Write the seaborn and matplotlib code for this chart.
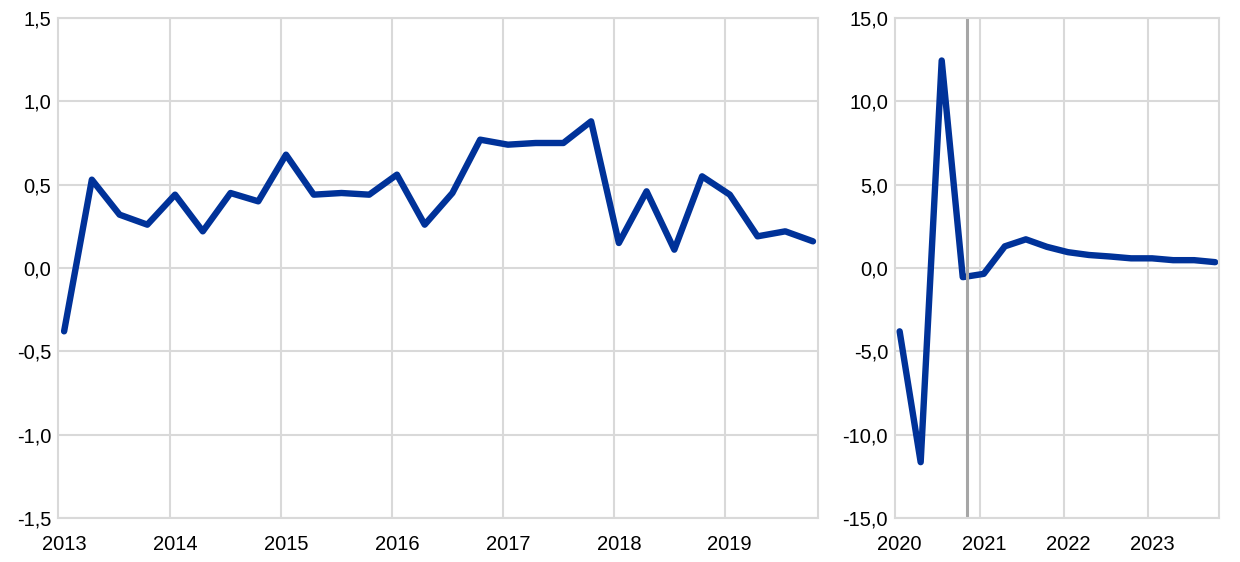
import matplotlib
matplotlib.use("Agg")
import matplotlib.pyplot as plt
import seaborn as sns
import pandas as pd
import numpy as np

# quarterly values, 2013Q1-2019Q4
hist_values = [-0.38, 0.53, 0.32, 0.26, 0.44, 0.22, 0.45, 0.40,
               0.68, 0.44, 0.45, 0.44, 0.56, 0.26, 0.45, 0.77,
               0.74, 0.75, 0.75, 0.88, 0.15, 0.46, 0.11, 0.55,
               0.44, 0.19, 0.22, 0.16]
hist_years = ["2013", "2014", "2015", "2016", "2017", "2018", "2019"]

# quarterly values, 2020Q1-2023Q4 (projection starts after 2020Q4)
proj_values = [-3.8, -11.65, 12.45, -0.55, -0.35, 1.3, 1.72, 1.27,
               0.95, 0.78, 0.69, 0.58, 0.58, 0.47, 0.47, 0.35]
proj_years = ["2020", "2021", "2022", "2023"]

blue = "#003299"
grid_c = "#d9d9d9"

sns.set_style("white")
plt.rcParams["font.family"] = ["Liberation Sans", "DejaVu Sans"]

hist = pd.DataFrame({"q": np.arange(len(hist_values)), "v": hist_values})
proj = pd.DataFrame({"q": np.arange(len(proj_values)), "v": proj_values})

fig = plt.figure(figsize=(12.4, 5.62), dpi=100)
ax1 = fig.add_axes([58 / 1240, 44 / 562, 760 / 1240, 500 / 562])
ax2 = fig.add_axes([895 / 1240, 44 / 562, 324 / 1240, 500 / 562])


def style(ax, years, n, yticks, fmt):
    ax.set_xticks(np.arange(len(years)) * 4)
    ax.set_xticklabels(years)
    ax.set_xticks(np.arange(1, len(years)) * 4 - 0.18, minor=True)
    ax.set_yticks(yticks)
    ax.set_yticklabels([fmt.format(t).replace(".", ",") for t in yticks])
    ax.set_ylim(yticks[0], yticks[-1])
    ax.set_xlim(-0.22, n - 1 + 0.18)
    ax.grid(which="minor", axis="x", color=grid_c, linewidth=1.5)
    ax.grid(which="major", axis="y", color=grid_c, linewidth=1.5)
    ax.grid(which="major", axis="x", visible=False)
    ax.set_axisbelow(True)
    for s in ax.spines.values():
        s.set_color(grid_c)
        s.set_linewidth(1.5)
    ax.tick_params(which="both", length=0, labelsize=14.5, colors="black")
    ax.tick_params(axis="x", pad=12)
    ax.tick_params(axis="y", pad=5)
    ax.set_xlabel("")
    ax.set_ylabel("")


sns.lineplot(data=hist, x="q", y="v", ax=ax1, color=blue, linewidth=4.6)
style(ax1, hist_years, len(hist_values), [-1.5, -1.0, -0.5, 0.0, 0.5, 1.0, 1.5], "{:.1f}")

sns.lineplot(data=proj, x="q", y="v", ax=ax2, color=blue, linewidth=4.6)
style(ax2, proj_years, len(proj_values), [-15, -10, -5, 0, 5, 10, 15], "{:.1f}")
ax2.axvline(3.2, color="#a6a6a6", linewidth=2.2, ymin=0.005, ymax=1.0)

fig.savefig("out.png", dpi=100)
